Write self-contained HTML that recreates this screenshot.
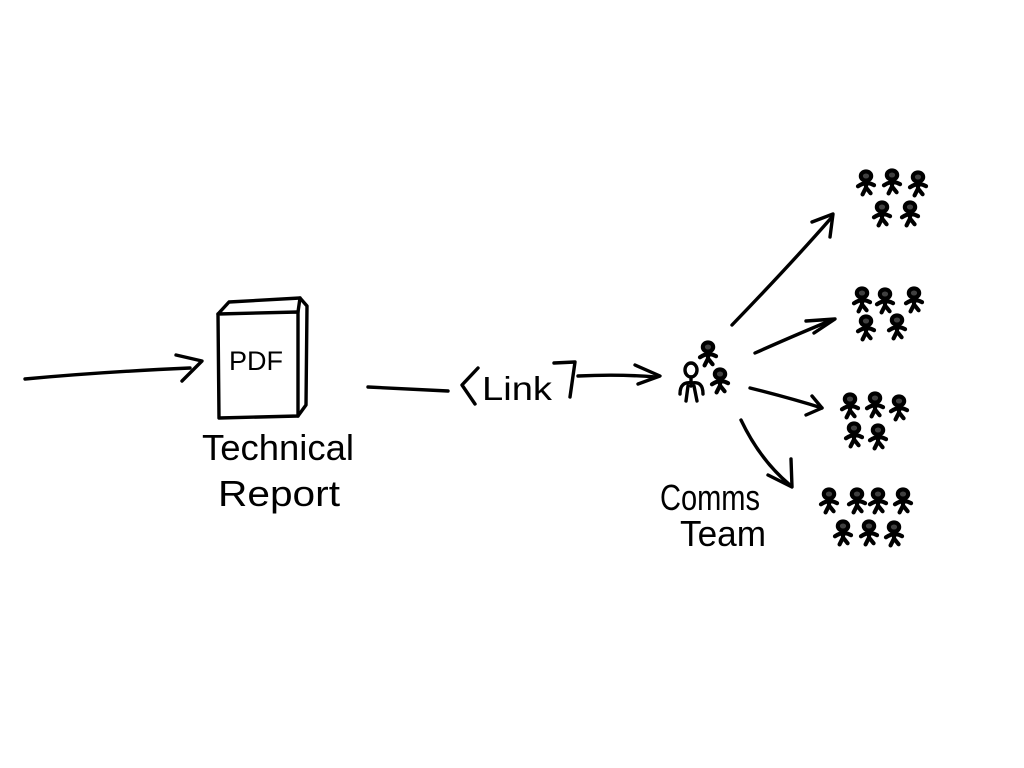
<!DOCTYPE html>
<html><head><meta charset="utf-8"><style>
html,body{margin:0;padding:0;background:#fff;}
svg{display:block}
text{font-family:"Liberation Sans",sans-serif;fill:#000}
</style></head><body>
<svg width="1024" height="768" viewBox="0 0 1024 768" xmlns="http://www.w3.org/2000/svg">
<defs>
<g id="p" fill="none" stroke="#000" stroke-width="3.6" stroke-linecap="round" stroke-linejoin="round" transform="scale(1.15)">
<ellipse cx="0" cy="0" rx="4.5" ry="4" fill="#000" fill-opacity="0.75"/>
<path d="M0 4 L0 10 M-7 9 Q0 4 7 8 M0 10 L-3 16 M0 10 L4 15"/>
</g>
</defs>
<g fill="none" stroke="#000" stroke-width="3.4" stroke-linecap="round" stroke-linejoin="round">
<path d="M25 379 Q100 372 190 368"/>
<path d="M176 355 L202 361 L182 381"/>
<path d="M218 314 L219 418 L298 416 L298 312 Z"/>
<path d="M218 314 L229 302 L300 298 L298 312"/>
<path d="M300 298 L307 306 L306 405 L298 416"/>
<path d="M368 387 Q410 389 448 391"/>
<path d="M478 368 L462 385 L475 404"/>
<path d="M554 363 L575 362 L570 397"/>
<path d="M578 376 Q620 374 655 377"/>
<path d="M635 365 L660 376 L638 384"/>
<path d="M732 325 Q790 265 832 217"/>
<path d="M812 222 L833 214 L830 237"/>
<path d="M755 353 Q800 333 832 320"/>
<path d="M806 321 L835 319 L814 333"/>
<path d="M750 388 Q790 398 822 408"/>
<path d="M812 396 L822 408 L806 415"/>
<path d="M741 420 Q760 460 790 485"/>
<path d="M768 475 L792 487 L791 459"/>
<ellipse cx="691" cy="370" rx="6" ry="7"/>
<path d="M691 377 L691 386 M680 394 Q680 381 692 383 Q703 381 703 394 M688 386 L686 401 M694 386 L697 401"/>
</g>
<use href="#p" x="708" y="347"/>
<use href="#p" x="720" y="374"/>
<use href="#p" x="866" y="176"/><use href="#p" x="892" y="175"/><use href="#p" x="918" y="177"/>
<use href="#p" x="882" y="207"/><use href="#p" x="910" y="207"/>
<use href="#p" x="862" y="293"/><use href="#p" x="885" y="294"/><use href="#p" x="914" y="293"/>
<use href="#p" x="866" y="321"/><use href="#p" x="897" y="320"/>
<use href="#p" x="850" y="399"/><use href="#p" x="875" y="398"/><use href="#p" x="899" y="401"/>
<use href="#p" x="854" y="428"/><use href="#p" x="878" y="430"/>
<use href="#p" x="829" y="494"/><use href="#p" x="857" y="494"/><use href="#p" x="878" y="494"/><use href="#p" x="903" y="494"/>
<use href="#p" x="843" y="526"/><use href="#p" x="869" y="526"/><use href="#p" x="894" y="527"/>
<text x="229" y="370" font-size="27">PDF</text>
<text x="202" y="460" font-size="36" textLength="152" lengthAdjust="spacingAndGlyphs">Technical</text>
<text x="218" y="506" font-size="36" textLength="122" lengthAdjust="spacingAndGlyphs">Report</text>
<text x="482" y="400" font-size="33" textLength="70" lengthAdjust="spacingAndGlyphs">Link</text>
<text x="660" y="510" font-size="36" textLength="100" lengthAdjust="spacingAndGlyphs">Comms</text>
<text x="680" y="546" font-size="36" textLength="86" lengthAdjust="spacingAndGlyphs">Team</text>
</svg>
</body></html>
